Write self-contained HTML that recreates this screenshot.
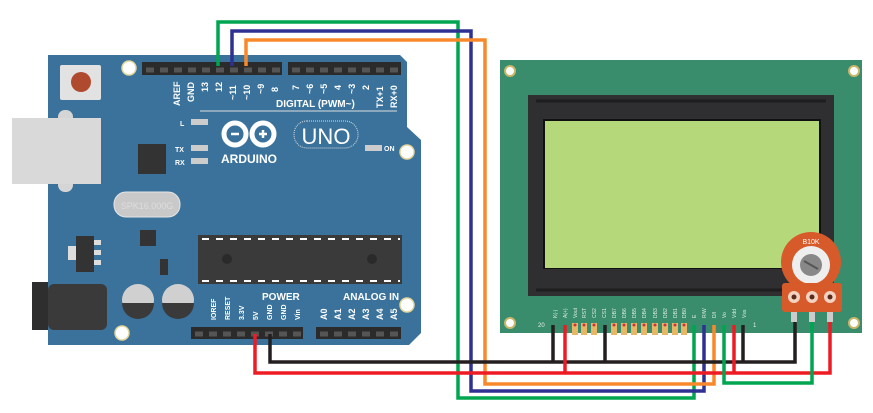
<!DOCTYPE html>
<html><head><style>html,body{margin:0;padding:0;background:#fff}svg{display:block}</style></head><body>
<svg width="873" height="413" viewBox="0 0 873 413" xmlns="http://www.w3.org/2000/svg" font-family="Liberation Sans, sans-serif">
<!-- Arduino board -->
<path d="M48 55 H400 L407 62 V127 L421 140 V333 L409 345 H48 Z" fill="#3a729b"/>
<circle cx="129" cy="68" r="7" fill="#fff" stroke="#e6d59a" stroke-width="1.5"/>
<circle cx="407" cy="152" r="7" fill="#fff" stroke="#e6d59a" stroke-width="1.5"/>
<circle cx="407" cy="305" r="7" fill="#fff" stroke="#e6d59a" stroke-width="1.5"/>
<circle cx="122" cy="333" r="7" fill="#fff" stroke="#e6d59a" stroke-width="1.5"/>
<!-- USB -->
<rect x="58" y="110" width="15" height="82" rx="7" fill="#d5d5d5"/>
<rect x="12" y="118" width="89" height="66" fill="#d9d9d9"/>
<!-- reset -->
<rect x="60" y="65" width="41" height="35" rx="2" fill="#e2e2e2"/>
<circle cx="81" cy="82" r="10" fill="#b04a2e"/>
<!-- jack -->
<rect x="32" y="282" width="16" height="48" fill="#2e2e2e"/>
<rect x="48" y="284" width="59" height="46" rx="6" fill="#3a3a3a"/>
<!-- caps -->
<circle cx="138" cy="300" r="16" fill="#d0d0d0"/><path d="M122 303 H154 A16 16 0 0 1 122 303Z" fill="#3a3a3a"/>
<circle cx="178" cy="300" r="16" fill="#d0d0d0"/><path d="M162 303 H194 A16 16 0 0 1 162 303Z" fill="#3a3a3a"/>
<!-- crystal -->
<rect x="114" y="192" width="66" height="25" rx="12" fill="#c9c9c9" stroke="#e5e5e5"/>
<text x="147" y="209" font-size="9" fill="#ddd" text-anchor="middle">SPK16.000G</text>
<!-- small chips -->
<rect x="138" y="144" width="28" height="30" fill="#333"/>
<rect x="140" y="230" width="16" height="16" fill="#333"/>
<rect x="76" y="236" width="18" height="36" fill="#333"/><rect x="68" y="246" width="8" height="14" fill="#ddd"/>
<rect x="94" y="240" width="7" height="5" fill="#ddd"/><rect x="94" y="250" width="7" height="5" fill="#ddd"/><rect x="94" y="260" width="7" height="5" fill="#ddd"/>
<rect x="160" y="259" width="8" height="16" fill="#333"/>
<!-- main chip -->
<rect x="198" y="235" width="204" height="49" fill="#3a3a3a"/>
<line x1="202" y1="239" x2="400" y2="239" stroke="#fff" stroke-width="2" stroke-dasharray="7 7"/>
<line x1="202" y1="281" x2="400" y2="281" stroke="#fff" stroke-width="2" stroke-dasharray="7 7"/>
<circle cx="227" cy="259" r="5" fill="#2a2a2a"/><circle cx="372" cy="259" r="5" fill="#2a2a2a"/>
<!-- headers -->
<rect x="142" y="62" width="140" height="13" fill="#2b2b2b"/>
<rect x="288" y="62" width="113" height="13" fill="#2b2b2b"/>
<rect x="191" y="327" width="112" height="12" fill="#2b2b2b"/>
<rect x="316" y="327" width="85" height="12" fill="#2b2b2b"/>
<g stroke="#555" stroke-width="5" stroke-dasharray="8 6">
<line x1="146" y1="70" x2="282" y2="70"/><line x1="292" y1="70" x2="401" y2="70"/>
<line x1="195" y1="334" x2="303" y2="334"/><line x1="320" y1="334" x2="401" y2="334"/></g>
<!-- labels -->
<g fill="#fff" font-size="9" font-weight="bold">
<text transform="translate(180,106) rotate(-90)">AREF</text><text transform="translate(194,102) rotate(-90)">GND</text>
<text transform="translate(208,92) rotate(-90)">13</text><text transform="translate(222,92) rotate(-90)">12</text>
<text transform="translate(236,100) rotate(-90)">~11</text><text transform="translate(250,100) rotate(-90)">~10</text>
<text transform="translate(264,94) rotate(-90)">~9</text><text transform="translate(278,92) rotate(-90)">8</text>
<text transform="translate(299,90) rotate(-90)">7</text><text transform="translate(313,94) rotate(-90)">~6</text>
<text transform="translate(327,94) rotate(-90)">~5</text><text transform="translate(341,90) rotate(-90)">4</text>
<text transform="translate(355,94) rotate(-90)">~3</text><text transform="translate(369,90) rotate(-90)">2</text>
<text transform="translate(383,108) rotate(-90)">TX+1</text><text transform="translate(397,108) rotate(-90)">RX+0</text>
<text x="276" y="107" font-size="10">DIGITAL (PWM~)</text>
<text x="221" y="163" font-size="12">ARDUINO</text>
<text x="343" y="300" font-size="10">ANALOG IN</text>
<text x="262" y="300" font-size="10">POWER</text>
<text x="175" y="152" font-size="7">TX</text><text x="175" y="165" font-size="7">RX</text><text x="180" y="126" font-size="7">L</text>
<text x="384" y="151" font-size="7">ON</text>
<text transform="translate(216,320) rotate(-90)" font-size="7">IOREF</text>
<text transform="translate(230,320) rotate(-90)" font-size="7">RESET</text>
<text transform="translate(244,320) rotate(-90)" font-size="7">3.3V</text>
<text transform="translate(258,320) rotate(-90)" font-size="7">5V</text>
<text transform="translate(272,320) rotate(-90)" font-size="7">GND</text>
<text transform="translate(286,320) rotate(-90)" font-size="7">GND</text>
<text transform="translate(300,320) rotate(-90)" font-size="7">Vin</text>
<text transform="translate(327,320) rotate(-90)">A0</text><text transform="translate(341,320) rotate(-90)">A1</text>
<text transform="translate(355,320) rotate(-90)">A2</text><text transform="translate(369,320) rotate(-90)">A3</text>
<text transform="translate(383,320) rotate(-90)">A4</text><text transform="translate(397,320) rotate(-90)">A5</text>
</g>
<line x1="200" y1="111" x2="397" y2="111" stroke="#ddd"/>
<rect x="191" y="119" width="17" height="6" fill="#ccc"/><rect x="191" y="145" width="17" height="6" fill="#ccc"/><rect x="191" y="158" width="17" height="6" fill="#ccc"/><rect x="365" y="145" width="17" height="6" fill="#ccc"/>
<g fill="none" stroke="#fff" stroke-width="5"><circle cx="235" cy="134" r="11"/><circle cx="263" cy="134" r="11"/></g>
<g stroke="#fff" stroke-width="2.5"><line x1="231" y1="134" x2="239" y2="134"/><line x1="259" y1="134" x2="267" y2="134"/><line x1="263" y1="130" x2="263" y2="138"/></g>
<rect x="294" y="121" width="64" height="27" rx="13" fill="none" stroke="#ddd" stroke-dasharray="1 1"/>
<text x="326" y="144" fill="#fff" font-size="22" text-anchor="middle">UNO</text>
<!-- LCD -->
<rect x="500" y="60" width="362" height="273" fill="#3a8d6c"/>
<circle cx="510" cy="71" r="5" fill="#fff" stroke="#c9b66a" stroke-width="2"/><circle cx="854" cy="71" r="5" fill="#fff" stroke="#c9b66a" stroke-width="2"/>
<circle cx="510" cy="323" r="5" fill="#fff" stroke="#c9b66a" stroke-width="2"/><circle cx="854" cy="323" r="5" fill="#fff" stroke="#c9b66a" stroke-width="2"/>
<rect x="528" y="95" width="306" height="201" fill="#2f2f31"/>
<line x1="536" y1="101" x2="826" y2="101" stroke="#1e1e1e" stroke-width="3"/>
<line x1="536" y1="290" x2="826" y2="290" stroke="#1e1e1e" stroke-width="3"/>
<rect x="543" y="119" width="278" height="150" fill="#111"/>
<rect x="545" y="121" width="274" height="147" fill="#b5d87a"/>
<g fill="#e8b765">
<rect x="572" y="323" width="6" height="12"/><rect x="581" y="323" width="6" height="12"/><rect x="591" y="323" width="6" height="12"/>
<rect x="611" y="323" width="6" height="12"/><rect x="621" y="323" width="6" height="12"/><rect x="631" y="323" width="6" height="12"/><rect x="641" y="323" width="6" height="12"/><rect x="652" y="323" width="6" height="12"/><rect x="662" y="323" width="6" height="12"/><rect x="672" y="323" width="6" height="12"/><rect x="681" y="323" width="6" height="12"/></g>
<g fill="#c34" ><circle cx="575" cy="325" r="1.5"/><circle cx="584" cy="325" r="1.5"/><circle cx="594" cy="325" r="1.5"/><circle cx="614" cy="325" r="1.5"/><circle cx="624" cy="325" r="1.5"/><circle cx="634" cy="325" r="1.5"/><circle cx="644" cy="325" r="1.5"/><circle cx="655" cy="325" r="1.5"/><circle cx="665" cy="325" r="1.5"/><circle cx="675" cy="325" r="1.5"/><circle cx="684" cy="325" r="1.5"/></g>
<g fill="#e0eee6" font-size="5">
<text transform="translate(557,318) rotate(-90)">K(-)</text><text transform="translate(567,318) rotate(-90)">A(+)</text>
<text transform="translate(577,318) rotate(-90)">Vout</text><text transform="translate(586,318) rotate(-90)">RST</text>
<text transform="translate(596,318) rotate(-90)">CS2</text><text transform="translate(606,318) rotate(-90)">CS1</text>
<text transform="translate(616,318) rotate(-90)">DB7</text><text transform="translate(626,318) rotate(-90)">DB6</text>
<text transform="translate(636,318) rotate(-90)">DB5</text><text transform="translate(646,318) rotate(-90)">DB4</text>
<text transform="translate(657,318) rotate(-90)">DB3</text><text transform="translate(667,318) rotate(-90)">DB2</text>
<text transform="translate(677,318) rotate(-90)">DB1</text><text transform="translate(686,318) rotate(-90)">DB0</text>
<text transform="translate(696,318) rotate(-90)">E</text><text transform="translate(706,318) rotate(-90)">R/W</text>
<text transform="translate(716,318) rotate(-90)">D/I</text><text transform="translate(726,318) rotate(-90)">Vo</text>
<text transform="translate(736,318) rotate(-90)">Vdd</text><text transform="translate(746,318) rotate(-90)">Vss</text>
<text x="538" y="327" font-size="6">20</text><text x="753" y="327" font-size="6">1</text></g>
<!-- wires -->
<g fill="none" stroke-width="3.5">
<polyline stroke="#00a550" points="218,66 218,22 458,22 458,398 694,398 694,325"/>
<polyline stroke="#2e3192" points="232,66 232,31 471,31 471,391 704,391 704,325"/>
<polyline stroke="#f7892b" points="246,66 246,40 485,40 485,384 714,384 714,325"/>
<polyline stroke="#231f20" points="270,334 270,362 795,362 795,312"/>
<polyline stroke="#231f20" points="553,325 553,362"/><polyline stroke="#231f20" points="605,325 605,362"/><polyline stroke="#231f20" points="743,325 743,362"/>
<polyline stroke="#ed1c24" points="255,334 255,373 830,373 830,312"/>
<polyline stroke="#ed1c24" points="565,325 565,373"/><polyline stroke="#ed1c24" points="734,325 734,373"/>
<polyline stroke="#00a550" points="724,325 724,383 812,383 812,312"/>
</g>
<!-- pot -->
<rect x="791" y="300" width="6" height="22" fill="#ccc"/><rect x="809" y="300" width="6" height="22" fill="#ccc"/><rect x="827" y="300" width="6" height="22" fill="#ccc"/>
<circle cx="811" cy="262" r="30" fill="#d75a2a"/>
<circle cx="811" cy="265" r="19" fill="#eee"/>
<circle cx="811" cy="265" r="11" fill="#888"/>
<line x1="804" y1="261" x2="818" y2="269" stroke="#555" stroke-width="2"/>
<text x="811" y="244" fill="#fff" font-size="7" text-anchor="middle">B10K</text>
<rect x="782" y="283" width="60" height="29" rx="3" fill="#d75a2a"/>
<g fill="#f2d2c2"><circle cx="794" cy="297" r="6"/><circle cx="812" cy="297" r="6"/><circle cx="830" cy="297" r="6"/></g>
<g fill="#5a2a1a"><circle cx="794" cy="297" r="2.5"/><circle cx="812" cy="297" r="2.5"/><circle cx="830" cy="297" r="2.5"/></g>
</svg>
</body></html>
